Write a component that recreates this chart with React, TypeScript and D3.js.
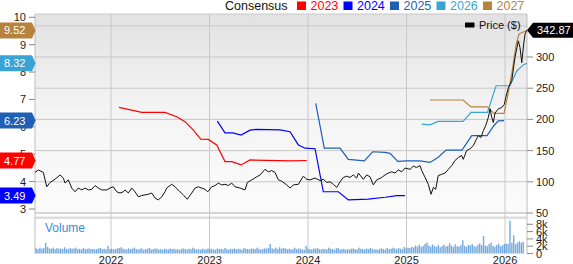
import React from 'react';
import * as d3 from 'd3';

// ---- Data ----
const priceYears = [
  2021.228, 2021.262, 2021.313, 2021.347, 2021.381, 2021.431, 2021.482, 2021.516, 2021.533, 2021.566,
  2021.601, 2021.635, 2021.668, 2021.703, 2021.736, 2021.770, 2021.804, 2021.838, 2021.871, 2021.906,
  2021.956, 2021.990, 2022.023, 2022.058, 2022.091, 2022.125, 2022.142, 2022.176, 2022.210, 2022.244,
  2022.277, 2022.312, 2022.345, 2022.379, 2022.413, 2022.447, 2022.480, 2022.515, 2022.548, 2022.565,
  2022.616, 2022.650, 2022.700, 2022.734, 2022.774, 2022.819, 2022.853, 2022.886, 2022.921, 2022.954,
  2022.982, 2023.022, 2023.056, 2023.089, 2023.124, 2023.157, 2023.191, 2023.225, 2023.259, 2023.310,
  2023.360, 2023.384, 2023.428, 2023.479, 2023.513, 2023.563, 2023.597, 2023.631, 2023.665, 2023.699,
  2023.733, 2023.784, 2023.817, 2023.851, 2023.902, 2023.952, 2023.987, 2024.020, 2024.071, 2024.122,
  2024.155, 2024.190, 2024.223, 2024.257, 2024.291, 2024.325, 2024.358, 2024.393, 2024.426, 2024.460,
  2024.494, 2024.511, 2024.561, 2024.596, 2024.629, 2024.663, 2024.697, 2024.748, 2024.782, 2024.815,
  2024.850, 2024.883, 2024.917, 2024.951, 2024.985, 2025.036, 2025.069, 2025.103, 2025.137, 2025.154,
  2025.188, 2025.221, 2025.249, 2025.272, 2025.296, 2025.322, 2025.357, 2025.391, 2025.424, 2025.459,
  2025.492, 2025.526, 2025.560, 2025.576, 2025.610, 2025.645, 2025.678, 2025.712, 2025.729, 2025.756,
  2025.780, 2025.804, 2025.830, 2025.848, 2025.865, 2025.881, 2025.898, 2025.932, 2025.967, 2025.993,
  2026.007, 2026.034, 2026.068, 2026.102, 2026.135, 2026.152, 2026.170, 2026.186, 2026.203, 2026.223,
];
const priceValues = [
  115, 119, 115, 92, 99, 104, 111, 106, 98, 103,
  90, 84, 90, 87, 90, 87, 88, 94, 90, 87,
  87, 90, 92, 84, 82, 84, 87, 82, 90, 84,
  76, 78, 79, 80, 82, 74, 71, 76, 84, 90,
  96, 92, 84, 79, 72, 82, 90, 92, 90, 88,
  84, 92, 94, 98, 95, 96, 94, 98, 92, 90,
  87, 99, 103, 108, 111, 120, 116, 118, 115, 103,
  101, 95, 90, 95, 96, 109, 104, 103, 106, 102,
  104, 99, 100, 96, 91, 100, 107, 109, 107, 111,
  106, 114, 104, 111, 108, 95, 103, 107, 111, 114,
  116, 114, 119, 116, 122, 120, 125, 123, 126, 118,
  107, 96, 80, 91, 88, 110, 112, 114, 120, 126,
  134, 139, 142, 136, 150, 153, 158, 169, 174, 171,
  182, 190, 203, 217, 203, 195, 210, 217, 219, 224,
  235, 251, 262, 300, 326, 315, 291, 316, 337, 342.87,
];

const eps2023Years = [2022.081, 2022.312, 2022.548, 2022.667, 2022.751, 2022.836, 2022.911, 2022.988, 2023.073, 2023.157, 2023.225, 2023.320, 2023.411, 2023.817, 2023.987];
const eps2023Values = [6.71, 6.53, 6.53, 6.37, 6.19, 5.88, 5.55, 5.54, 5.34, 4.73, 4.73, 4.61, 4.79, 4.76, 4.77];

const eps2024Years = [2023.079, 2023.157, 2023.235, 2023.320, 2023.411, 2023.479, 2023.716, 2023.817, 2023.902, 2023.970, 2024.071, 2024.155, 2024.308, 2024.409, 2024.612, 2024.782, 2024.901, 2024.985];
const eps2024Values = [6.21, 5.78, 5.78, 5.70, 5.88, 5.91, 5.89, 5.82, 5.34, 5.22, 5.20, 3.63, 3.63, 3.33, 3.36, 3.43, 3.49, 3.49];

const eps2025Years = [2024.078, 2024.165, 2024.325, 2024.409, 2024.572, 2024.655, 2024.782, 2024.832, 2024.911, 2025.002, 2025.137, 2025.239, 2025.322, 2025.401, 2025.563, 2025.662, 2025.817, 2025.888, 2025.932, 2025.990];
const eps2025Values = [6.86, 5.22, 5.22, 4.81, 4.76, 5.09, 5.07, 5.03, 4.74, 4.76, 4.76, 4.70, 4.89, 5.15, 5.15, 5.68, 5.68, 6.05, 6.22, 6.23];

const eps2026Years = [2025.154, 2025.239, 2025.320, 2025.574, 2025.655, 2025.822, 2025.909, 2026.051, 2026.119, 2026.188, 2026.223];
const eps2026Values = [6.10, 6.07, 6.20, 6.20, 6.53, 6.53, 7.50, 7.50, 8.04, 8.27, 8.32];

const eps2027Years = [2025.239, 2025.574, 2025.655, 2025.822, 2025.888, 2025.990, 2026.034, 2026.071, 2026.112, 2026.142, 2026.223];
const eps2027Values = [6.98, 6.98, 6.73, 6.73, 6.49, 6.49, 7.27, 8.00, 8.99, 9.39, 9.52];

const seriesNames = ['2023', '2024', '2025', '2026', '2027'];
const seriesColors = ['#ff0000', '#0000ff', '#1f5fb4', '#3aa3d6', '#b8823c'];
const seriesYears = [eps2023Years, eps2024Years, eps2025Years, eps2026Years, eps2027Years];
const seriesValues = [eps2023Values, eps2024Values, eps2025Values, eps2026Values, eps2027Values];
const tagValues = [4.77, 3.49, 6.23, 8.32, 9.52];

// weekly volume (thousands), from week starting 2021.24
const volumeStart = 2021.24;
const vol2021 = [1.4, 1.2, 1.6, 1.3, 1.5, 2.9, 1.8, 1.4, 1.3, 1.6, 1.2, 1.5, 1.3, 1.4, 1.2, 1.7, 1.3, 1.2, 1.5, 1.3, 1.4, 1.6, 1.2, 1.3, 1.1, 1.5, 1.2, 1.3, 1.4, 1.2, 1.3, 1.1, 1.2, 1.4, 1.5, 1.2, 1.3, 1.1, 2.1, 1.2];
const vol2022 = [1.3, 1.1, 1.2, 1.4, 1.5, 1.7, 1.3, 1.2, 1.1, 1.4, 1.2, 1.3, 1.6, 1.2, 1.1, 1.3, 1.4, 1.0, 1.2, 1.3, 1.5, 1.1, 1.2, 1.4, 1.3, 1.1, 1.2, 1.0, 1.3, 1.2, 1.1, 1.4, 1.2, 1.3, 1.1, 1.2, 1.0, 1.3, 1.4, 1.2, 1.1, 1.3, 1.2, 1.6, 1.3, 1.1, 1.2, 1.0, 1.3, 1.2, 1.1, 1.4];
const vol2023 = [1.2, 1.3, 1.1, 1.0, 1.4, 1.2, 1.3, 1.1, 1.5, 1.2, 1.0, 1.3, 1.2, 1.4, 1.1, 1.3, 1.2, 1.0, 1.5, 1.3, 1.2, 1.1, 1.4, 1.3, 1.2, 1.6, 1.3, 1.1, 1.2, 1.4, 1.3, 1.5, 2.6, 1.4, 1.3, 1.6, 1.2, 1.7, 1.3, 1.5, 1.4, 1.2, 1.3, 1.1, 1.2, 1.6, 1.2, 1.4, 1.3, 1.1, 1.0, 2.1];
const vol2024 = [1.3, 1.2, 1.1, 1.4, 1.3, 1.5, 1.2, 1.1, 1.3, 1.2, 1.1, 1.6, 1.3, 1.2, 1.0, 1.4, 1.5, 1.1, 1.2, 1.3, 1.0, 1.2, 1.1, 1.3, 1.4, 1.2, 1.1, 1.6, 1.3, 1.2, 1.1, 1.4, 1.2, 1.5, 1.3, 1.1, 1.2, 1.0, 1.3, 1.4, 1.2, 1.1, 1.5, 1.2, 1.3, 1.6, 1.4, 1.2, 1.5, 1.3, 1.1, 1.8];
const vol2025 = [1.4, 1.6, 1.5, 1.8, 1.7, 2.2, 1.9, 2.4, 1.8, 2.1, 2.6, 3.0, 2.2, 1.9, 2.5, 2.0, 1.8, 2.3, 1.7, 2.0, 2.4, 1.9, 2.1, 2.8, 2.2, 1.8, 2.5, 2.0, 1.9, 2.3, 3.6, 2.1, 1.8, 2.4, 2.2, 2.6, 2.0, 1.9, 2.4, 2.8, 2.3, 4.8, 2.2, 2.0, 2.6, 3.0, 2.1, 1.9, 2.3, 2.7, 2.0, 2.2];
const vol2026 = [2.6, 2.7, 2.6, 9.0, 2.9, 5.0, 2.5, 3.0, 3.3, 2.9, 3.2];

const yearTicks = [2022, 2023, 2024, 2025, 2026];
const priceTicks = [50, 100, 150, 200, 250, 300];
const priceGrid = [50, 100, 150, 200, 250, 300, 350];
const epsTicks = [3, 4, 5, 6, 7, 8, 9, 10];
const volTicks = [0, 2, 4, 6, 8];
const lastPrice = 342.87;

// ---- Layout ----
const W = 573, H = 264;
const L = 35, R = 527, T = 14, B = 213;
const VT = 219, VB = 253.5;
const FONT = 'Arial, "Liberation Sans", Helvetica, sans-serif';

export default function App() {
  const x = d3.scaleLinear().domain([2021.228, 2026.223]).range([L, R]);
  const yP = d3.scaleLinear().domain([50, 368.9]).range([B, T]);
  const yE = d3.scaleLinear().domain([2.854, 10.12]).range([B, T]);
  const yV = d3.scaleLinear().domain([0, 9.45]).range([VB, VT]);

  const volumes = [...vol2021, ...vol2022, ...vol2023, ...vol2024, ...vol2025, ...vol2026];
  const volYears = volumes.map((_, i) => volumeStart + i / 52.18);

  const priceLine = d3.line<number>().x((d, i) => x(priceYears[i])).y((d) => yP(d));

  const legendX = [297, 343.5, 390, 436.5, 483];

  const tag = (yc: number) => `M0,${yc - 8} H32 L35.5,${yc} L32,${yc + 8} H0 Z`;
  const pyc = yP(lastPrice);

  return (
    <svg width={W} height={H} style={{ position: 'absolute', left: 0, top: 0, fontFamily: FONT }}>
      <defs>
        <linearGradient id="bg" x1="0" y1="0" x2="0" y2="1">
          <stop offset="0" stopColor="#e2e2e2" />
          <stop offset="0.5" stopColor="#f4f4f4" />
          <stop offset="1" stopColor="#fbfbfb" />
        </linearGradient>
        <clipPath id="plot">
          <rect x={L} y={T} width={R - L} height={B - T} />
        </clipPath>
      </defs>
      <rect x={0} y={0} width={W} height={H} fill="#ffffff" />
      <rect x={L} y={T} width={R - L} height={B - T} fill="url(#bg)" />
      <rect x={L} y={216.5} width={R - L} height={2.5} fill="#dedede" />

      {/* horizontal grid */}
      {priceGrid.map((p) => (
        <line key={p} x1={L} x2={R} y1={yP(p)} y2={yP(p)} stroke="#c8c8c8" strokeWidth={1} />
      ))}
      {/* vertical grid */}
      {yearTicks.map((yr) => (
        <line key={yr} x1={x(yr)} x2={x(yr)} y1={T} y2={VB} stroke="#c8c8c8" strokeWidth={1} />
      ))}
      {/* borders */}
      <line x1={L} x2={L} y1={T} y2={VB} stroke="#bdbdbd" />
      <line x1={R} x2={R} y1={T} y2={VB} stroke="#bdbdbd" />
      <line x1={L} x2={R} y1={T} y2={T} stroke="#c8c8c8" />
      <line x1={L} x2={R} y1={B} y2={B} stroke="#c8c8c8" />

      {/* volume */}
      <text x={45} y={232} fontSize={12} fill="#3a8fd0">Volume</text>
      {volumes.map((v, i) => (
        <rect key={i} x={x(volYears[i]) - 0.7} y={yV(v)} width={1.4} height={VB - yV(v)} fill="#5a9ad6" opacity={0.85} />
      ))}
      {volTicks.map((v) => (
        <g key={v}>
          <line x1={R} x2={R + 6} y1={yV(v)} y2={yV(v)} stroke="#888" />
          <text x={R + 9} y={yV(v) + 4} fontSize={11} fill="#222">{v === 0 ? '0' : `${v}k`}</text>
        </g>
      ))}

      {/* EPS lines */}
      <g clipPath="url(#plot)">
        {seriesNames.map((s, k) => {
          const line = d3.line<number>().x((d, i) => x(seriesYears[k][i])).y((d) => yE(d));
          return <path key={s} d={line(seriesValues[k]) || ''} fill="none" stroke={seriesColors[k]} strokeWidth={1.2} />;
        })}
        <path d={priceLine(priceValues) || ''} fill="none" stroke="#111" strokeWidth={1} />
      </g>

      {/* left axis */}
      {epsTicks.map((e) => (
        <g key={e}>
          <line x1={L - 6} x2={L} y1={yE(e)} y2={yE(e)} stroke="#888" />
          <text x={26} y={yE(e) + 4} fontSize={11} fill="#222" textAnchor="end">{e}</text>
        </g>
      ))}
      {/* right axis */}
      {priceTicks.map((p) => (
        <g key={p}>
          <line x1={R} x2={R + 6} y1={yP(p)} y2={yP(p)} stroke="#888" />
          <text x={R + 9} y={yP(p) + 4} fontSize={11} fill="#222">{p}</text>
        </g>
      ))}
      {/* x labels */}
      {yearTicks.map((yr) => (
        <text key={yr} x={x(yr)} y={264} fontSize={11} fill="#222" textAnchor="middle">{yr}</text>
      ))}

      {/* left tags */}
      {tagValues.map((v, k) => (
        <g key={k}>
          <path d={tag(yE(v))} fill={seriesColors[k]} />
          <text x={4} y={yE(v) + 4} fontSize={11} fill="#fff">{v.toFixed(2)}</text>
        </g>
      ))}

      {/* price tag */}
      <path d={`M${R},${pyc} L${R + 6},${pyc - 7.5} H${W} V${pyc + 7.5} H${R + 6} Z`} fill="#000" />
      <text x={537} y={pyc + 4} fontSize={11} fill="#fff">{lastPrice.toFixed(2)}</text>

      {/* price legend */}
      <rect x={465} y={22.5} width={9.5} height={5} fill="#000" />
      <text x={479} y={29} fontSize={11} fill="#111">Price ($)</text>

      {/* top legend */}
      <text x={225} y={10} fontSize={12.5} fill="#111">Consensus</text>
      {seriesNames.map((s, k) => (
        <g key={s}>
          <rect x={legendX[k]} y={1.5} width={9} height={8.5} fill={seriesColors[k]} />
          <text x={legendX[k] + 13.5} y={10} fontSize={12.5} fill={seriesColors[k]}>{s}</text>
        </g>
      ))}
    </svg>
  );
}
